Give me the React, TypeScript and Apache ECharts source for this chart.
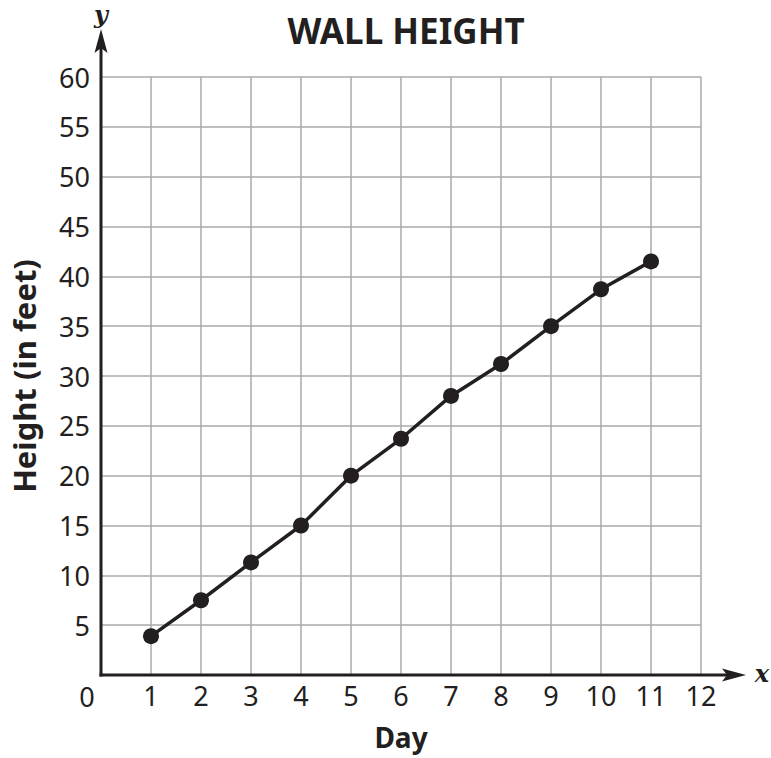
import React, { useEffect, useRef } from "react";
import * as echarts from "echarts";

const days = [1, 2, 3, 4, 5, 6, 7, 8, 9, 10, 11];
const heights = [3.9, 7.5, 11.3, 15, 20, 23.7, 28, 31.2, 35, 38.7, 41.5];
const xTicks = [1, 2, 3, 4, 5, 6, 7, 8, 9, 10, 11, 12];
const yTicks = [5, 10, 15, 20, 25, 30, 35, 40, 45, 50, 55, 60];

const INK = "#231f20";
const FONT = "'Noto Sans', 'Open Sans', sans-serif";

export default function App() {
  const ref = useRef<HTMLDivElement>(null);
  useEffect(() => {
    document.body.style.margin = "0";
    if (!ref.current) return;
    const chart = echarts.init(ref.current, null, { renderer: "svg" });
    const option: any = {
      animation: false,
      backgroundColor: "#ffffff",
      title: {
        text: "WALL HEIGHT",
        left: 401,
        top: 8,
        textAlign: "center",
        textStyle: { fontFamily: FONT, fontSize: 35, fontWeight: "bold", color: INK },
      },
      grid: { left: 101, top: 77, width: 600, height: 598, containLabel: false },
      xAxis: {
        type: "value",
        min: 0,
        max: 12,
        interval: 1,
        name: "Day",
        nameLocation: "middle",
        nameGap: 48,
        nameTextStyle: { fontFamily: FONT, fontSize: 28, fontWeight: "bold", color: INK },
        axisLine: { show: false },
        axisTick: { show: false },
        axisLabel: {
          margin: 7,
          fontFamily: FONT,
          fontSize: 27,
          color: INK,
          formatter: (v: number) => (xTicks.includes(v) ? String(v) : ""),
        },
        splitLine: { show: true, lineStyle: { color: "#aaaaaa", width: 1.5 } },
      },
      yAxis: {
        type: "value",
        min: 0,
        max: 60,
        interval: 5,
        name: "Height (in feet)",
        nameLocation: "middle",
        nameGap: 62,
        nameTextStyle: { fontFamily: FONT, fontSize: 31, fontWeight: "bold", color: INK },
        axisLine: { show: false },
        axisTick: { show: false },
        axisLabel: {
          margin: 11,
          fontFamily: FONT,
          fontSize: 27,
          color: INK,
          formatter: (v: number) => (yTicks.includes(v) ? String(v) : ""),
        },
        splitLine: { show: true, lineStyle: { color: "#aaaaaa", width: 1.5 } },
      },
      series: [
        {
          type: "line",
          data: days.map((d, i) => [d, heights[i]]),
          symbol: "circle",
          symbolSize: 16,
          itemStyle: { color: INK },
          lineStyle: { color: INK, width: 3.5 },
          z: 10,
        },
      ],
    };
    chart.setOption(option);

    const o = chart.convertToPixel({ gridIndex: 0 }, [0, 0]) as number[];
    const top = chart.convertToPixel({ gridIndex: 0 }, [0, 60]) as number[];
    const right = chart.convertToPixel({ gridIndex: 0 }, [12, 0]) as number[];
    const ox = o[0];
    const oy = o[1];
    const yTip = top[1] - 48;
    const xTip = right[0] + 45;
    chart.setOption({
      graphic: [
        {
          type: "line",
          z: 100,
          shape: { x1: ox, y1: oy + 1.5, x2: ox, y2: yTip + 8 },
          style: { stroke: INK, lineWidth: 3 },
        },
        {
          type: "line",
          z: 100,
          shape: { x1: ox - 1.5, y1: oy, x2: xTip - 8, y2: oy },
          style: { stroke: INK, lineWidth: 3 },
        },
        {
          type: "polygon",
          z: 100,
          shape: {
            points: [
              [ox, yTip],
              [ox + 6.5, yTip + 24],
              [ox, yTip + 19],
              [ox - 6.5, yTip + 24],
            ],
          },
          style: { fill: INK },
        },
        {
          type: "polygon",
          z: 100,
          shape: {
            points: [
              [xTip, oy],
              [xTip - 24, oy - 6.5],
              [xTip - 19, oy],
              [xTip - 24, oy + 6.5],
            ],
          },
          style: { fill: INK },
        },
        {
          type: "text",
          z: 100,
          x: ox,
          y: yTip - 15,
          style: {
            text: "y",
            fontFamily: "'DejaVu Serif', 'Liberation Serif', serif",
            fontStyle: "italic",
            fontWeight: "bold",
            fontSize: 24,
            fill: INK,
            align: "center",
            verticalAlign: "middle",
          },
        },
        {
          type: "text",
          z: 100,
          x: xTip + 16,
          y: oy - 2,
          style: {
            text: "x",
            fontFamily: "'DejaVu Serif', 'Liberation Serif', serif",
            fontStyle: "italic",
            fontWeight: "bold",
            fontSize: 24,
            fill: INK,
            align: "center",
            verticalAlign: "middle",
          },
        },
        {
          type: "text",
          z: 100,
          x: ox - 14,
          y: oy + 21,
          style: {
            text: "0",
            fontFamily: FONT,
            fontSize: 27,
            fill: INK,
            align: "center",
            verticalAlign: "middle",
          },
        },
      ],
    });
    return () => chart.dispose();
  }, []);
  return <div ref={ref} style={{ width: 771, height: 758 }} />;
}
